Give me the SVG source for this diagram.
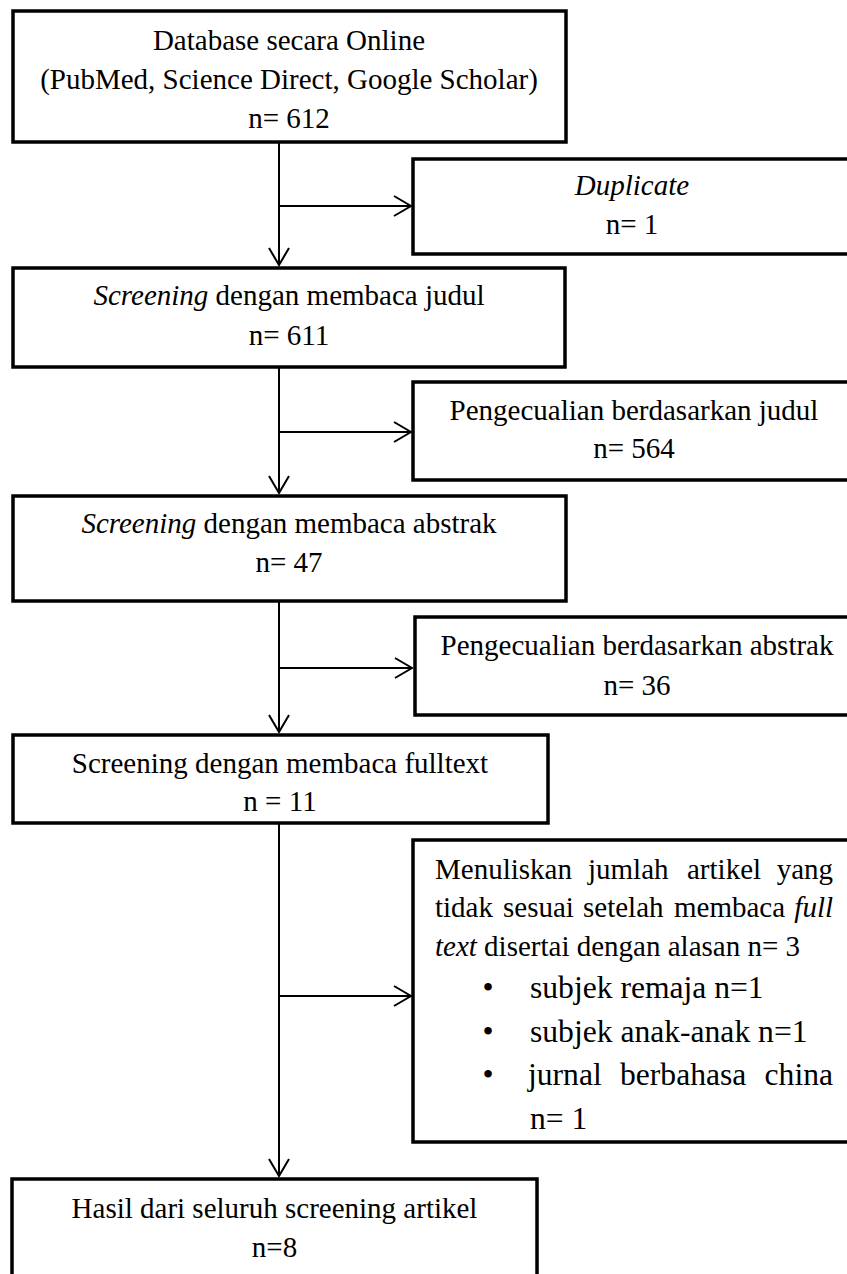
<svg xmlns="http://www.w3.org/2000/svg" width="847" height="1274" viewBox="0 0 847 1274">
<style>
  .box{fill:#fff;stroke:#000;stroke-width:3.5}
  .t{font-family:"Liberation Serif","Times New Roman",serif;font-size:29px;fill:#000}
  .b{font-size:31.6px}
  .c{text-anchor:middle}
  .e{text-anchor:end}
  .i{font-style:italic}
  .con{fill:none;stroke:#000;stroke-width:2}
</style>
<defs>
  <marker id="arr" markerUnits="userSpaceOnUse" markerWidth="22" markerHeight="24" viewBox="-1 -1 22 24" refX="18" refY="10" orient="auto">
    <path d="M1,0 L18,10 L1,20" fill="none" stroke="#000" stroke-width="2"/>
  </marker>
</defs>
<rect width="847" height="1274" fill="#fff"/>
<g id="connectors">
  <path class="con" d="M279,142 V265" marker-end="url(#arr)"/>
  <path class="con" d="M279,206 H411" marker-end="url(#arr)"/>
  <path class="con" d="M279,367 V493" marker-end="url(#arr)"/>
  <path class="con" d="M279,432 H411" marker-end="url(#arr)"/>
  <path class="con" d="M279,601 V732" marker-end="url(#arr)"/>
  <path class="con" d="M279,668 H412" marker-end="url(#arr)"/>
  <path class="con" d="M279,823 V1176" marker-end="url(#arr)"/>
  <path class="con" d="M279,996 H411" marker-end="url(#arr)"/>
</g>
<g id="n1">
  <rect class="box" x="13" y="11" width="553" height="131"/>
  <text class="t c" x="289" y="50">Database secara Online</text>
  <text class="t c" x="289" y="89">(PubMed, Science Direct, Google Scholar)</text>
  <text class="t c" x="289" y="128">n= 612</text>
</g>
<g id="n2">
  <rect class="box" x="413" y="159" width="440" height="95"/>
  <text class="t c i" x="632" y="195">Duplicate</text>
  <text class="t c" x="632" y="234">n= 1</text>
</g>
<g id="n3">
  <rect class="box" x="13" y="268" width="552" height="99"/>
  <text class="t c" x="289" y="305"><tspan class="i">Screening</tspan> dengan membaca judul</text>
  <text class="t c" x="289" y="345">n= 611</text>
</g>
<g id="n4">
  <rect class="box" x="413" y="382" width="440" height="98"/>
  <text class="t c" x="634" y="420">Pengecualian berdasarkan judul</text>
  <text class="t c" x="634" y="458">n= 564</text>
</g>
<g id="n5">
  <rect class="box" x="13" y="496" width="553" height="105"/>
  <text class="t c" x="289" y="533"><tspan class="i">Screening</tspan> dengan membaca abstrak</text>
  <text class="t c" x="289" y="572">n= 47</text>
</g>
<g id="n6">
  <rect class="box" x="415" y="617" width="438" height="98"/>
  <text class="t c" x="637" y="655">Pengecualian berdasarkan abstrak</text>
  <text class="t c" x="637" y="695">n= 36</text>
</g>
<g id="n7">
  <rect class="box" x="13" y="735" width="535" height="88"/>
  <text class="t c" x="280" y="773">Screening dengan membaca fulltext</text>
  <text class="t c" x="280" y="811">n = 11</text>
</g>
<g id="n8">
  <rect class="box" x="413" y="840" width="440" height="302"/>
  <text class="t" x="435" y="879">Menuliskan</text>
  <text class="t" x="588" y="879">jumlah</text>
  <text class="t" x="687" y="879">artikel</text>
  <text class="t e" x="833" y="879">yang</text>
  <text class="t" x="435" y="917">tidak</text>
  <text class="t" x="503" y="917">sesuai</text>
  <text class="t" x="583" y="917">setelah</text>
  <text class="t" x="674" y="917">membaca</text>
  <text class="t e i" x="833" y="917">full</text>
  <text class="t" x="435" y="956"><tspan class="i">text</tspan> disertai dengan alasan n= 3</text>
  <text class="t b c" x="488" y="998">•</text>
  <text class="t b" x="530" y="998">subjek remaja n=1</text>
  <text class="t b c" x="488" y="1042">•</text>
  <text class="t b" x="530" y="1042">subjek anak-anak n=1</text>
  <text class="t b c" x="488" y="1085">•</text>
  <text class="t b" x="528" y="1085">jurnal</text>
  <text class="t b" x="620" y="1085">berbahasa</text>
  <text class="t b e" x="833" y="1085">china</text>
  <text class="t b" x="530" y="1129">n= 1</text>
</g>
<g id="n9">
  <rect class="box" x="12" y="1179" width="525" height="100"/>
  <text class="t c" x="274.5" y="1218">Hasil dari seluruh screening artikel</text>
  <text class="t c" x="274.5" y="1257">n=8</text>
</g>
</svg>
